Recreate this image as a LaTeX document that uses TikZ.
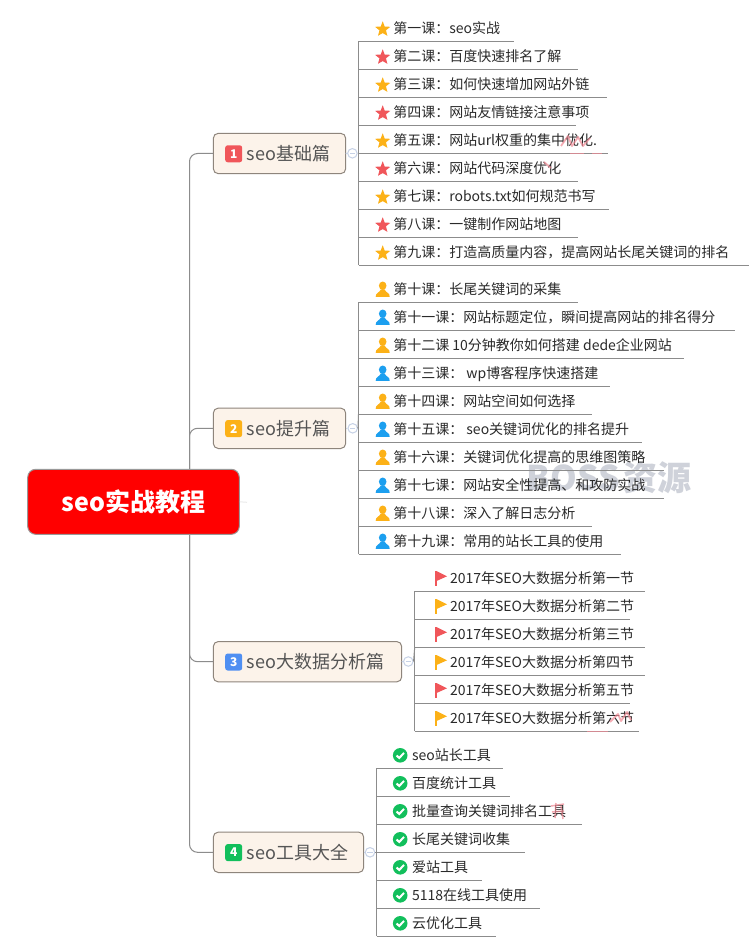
\documentclass[tikz,border=0pt]{standalone}
\usepackage{fontspec}
\setmainfont{Noto Sans CJK SC}
\definecolor{linkgray}{HTML}{8C8C8C}
\definecolor{txt}{HTML}{2A2A2A}
\definecolor{gfill}{HTML}{FCF3EA}
\definecolor{gborder}{HTML}{8E857C}
\definecolor{gtext}{HTML}{555555}
\definecolor{icoorange}{HTML}{FCB117}
\definecolor{icored}{HTML}{F0565A}
\definecolor{icoblue}{HTML}{1C9FEF}
\definecolor{icogreen}{HTML}{12BF5C}
\definecolor{badgeblue}{HTML}{4F8FF2}
\definecolor{collapse}{HTML}{C6D1E6}
\definecolor{mark}{HTML}{CFD2DA}
\definecolor{smudge}{HTML}{F08A95}
\tikzset{
  link/.style={draw=linkgray,line width=1pt},
  rowbox/.style={anchor=south west,inner sep=0pt,outer sep=0pt,minimum height=28pt,text=txt,font=\fontsize{14pt}{16pt}\selectfont},
  groupbox/.style={rectangle,rounded corners=5pt,draw=gborder,fill=gfill,line width=1pt,inner sep=0pt,outer sep=0pt,minimum height=40.4pt,text=gtext,font=\fontsize{18pt}{20pt}\selectfont},
  badgebox/.style={rectangle,rounded corners=2.5pt,minimum size=17pt,inner sep=0pt,text=white,font=\fontsize{12pt}{12pt}\selectfont\bfseries},
  rootbox/.style={rectangle,rounded corners=8pt,draw=gray!80,fill=red,line width=1pt,inner sep=0pt,minimum width=211.6pt,minimum height=65pt,text=white,font=\fontsize{25pt}{28pt}\selectfont\bfseries},
  foldmark/.style={circle,draw=collapse,fill=white,line width=1pt,minimum size=9.5pt,inner sep=0pt},
  smudgeline/.style={draw=smudge,line width=1.8pt,opacity=.7,line join=round},
  pics/starico/.style={code={\begin{scope}[yshift=-1pt]\fill[#1,line join=round] (-90:8)--(-54:3.4)--(-18:8)--(18:3.4)--(54:8)--(90:3.8)--(126:8)--(162:3.4)--(198:8)--(234:3.4)--cycle;\end{scope}}},
  pics/personico/.style={code={\fill[#1] (0,-3.6) ellipse (3.8 and 4.2);
     \fill[#1] (-7,7.6) .. controls (-7.4,3.4) and (-3,3.6) .. (-1.8,0) -- (1.8,0) .. controls (3,3.6) and (7.4,3.4) .. (7,7.6) -- cycle;}},
  pics/flagico/.style={code={\fill[#1] (-6,-7.5) rectangle (-4,7.5);
     \fill[#1] (-4,-7) -- (6,-2) -- (-4,2.5) -- cycle;}},
  pics/checkico/.style={code={\fill[icogreen] (0,0) circle (7.3);
     \draw[white,line width=2pt] (-3.6,0.2) -- (-1,2.7) -- (3.8,-2.4);}},
}
\newcommand\lessonrow[5]{%
  \pgfmathsetmacro\rowW{#3-\stemx}
  \node[rowbox,minimum width=\rowW pt] (#1) at (\stemx,#2) {\makebox[\rowW pt][l]{\hspace*{\textx pt}\rule[-5.7pt]{0pt}{24pt}#5}};
  \draw[link] (#1.south west) -- (#1.south east);
  \path (#1.west) ++(\iconx,1) pic {#4};
}
\newcommand\topicbox[6]{% name, center y, right x, badge colour, digit, text
  \pgfmathsetmacro\boxW{#3-213.3}
  \pgfmathsetmacro\boxC{(#3+213.3)/2}
  \node[groupbox,minimum width=\boxW pt] (#1) at (\boxC,#2) {\makebox[\boxW pt][l]{\hspace*{33.4pt}#6}};
  \node[badgebox,fill=#4] (#1b) at (233.7,#2+0.3) {#5};
}
\begin{document}
\begin{tikzpicture}[x=1pt,y=-1pt]
\useasboundingbox (0,0) rectangle (749,952);
\fill[white] (0,0) rectangle (749,952);
\coordinate (tk) at (189.5,500);

% watermark
\node[inner sep=0pt,text=mark,font=\fontsize{34pt}{36pt}\selectfont\bfseries] (wm) at (609,477.5) {BOSS\hspace{3pt}资源};

% group 1
\def\stemx{358.5}\def\iconx{24.2}\def\textx{34.8}
\lessonrow{a1}{41.3}{514}{starico=icoorange}{第一课：seo实战}
\lessonrow{a2}{69.3}{578}{starico=icored}{第二课：百度快速排名了解}
\lessonrow{a3}{97.3}{607}{starico=icoorange}{第三课：如何快速增加网站外链}
\lessonrow{a4}{125.3}{576}{starico=icored}{第四课：网站友情链接注意事项}
\lessonrow{a5}{153.3}{608}{starico=icoorange}{第五课：网站url权重的集中优化.}
\lessonrow{a6}{181.3}{578}{starico=icored}{第六课：网站代码深度优化}
\lessonrow{a7}{209.3}{609}{starico=icoorange}{第七课：robots.txt如何规范书写}
\lessonrow{a8}{237.3}{578}{starico=icored}{第八课：一键制作网站地图}
\lessonrow{a9}{265.3}{749}{starico=icoorange}{第九课：打造高质量内容，提高网站长尾关键词的排名}
\draw[link] (a1.south west) -- (a9.south west);

% group 2
\lessonrow{b1}{302.3}{578}{personico=icoorange}{第十课：长尾关键词的采集}
\lessonrow{b2}{330.3}{735}{personico=icoblue}{第十一课：网站标题定位，瞬间提高网站的排名得分}
\lessonrow{b3}{358.3}{684}{personico=icoorange}{第十二课 10分钟教你如何搭建 dede企业网站}
\lessonrow{b4}{386.3}{610}{personico=icoblue}{第十三课： wp博客程序快速搭建}
\lessonrow{b5}{414.3}{592}{personico=icoorange}{第十四课：网站空间如何选择}
\lessonrow{b6}{442.3}{642}{personico=icoblue}{第十五课： seo关键词优化的排名提升}
\lessonrow{b7}{470.3}{664}{personico=icoorange}{第十六课：关键词优化提高的思维图策略}
\lessonrow{b8}{498.3}{664}{personico=icoblue}{第十七课：网站安全性提高、和攻防实战}
\lessonrow{b9}{526.3}{592}{personico=icoorange}{第十八课：深入了解日志分析}
\lessonrow{b10}{554.3}{621}{personico=icoblue}{第十九课：常用的站长工具的使用}
\draw[link] (b1.south west) -- (b10.south west);

% group 3
\def\stemx{414.7}\def\iconx{26.3}\def\textx{35.3}
\lessonrow{c1}{591.3}{645}{flagico=icored}{2017年SEO大数据分析第一节}
\lessonrow{c2}{619.3}{630}{flagico=icoorange}{2017年SEO大数据分析第二节}
\lessonrow{c3}{647.3}{645}{flagico=icored}{2017年SEO大数据分析第三节}
\lessonrow{c4}{675.3}{645}{flagico=icoorange}{2017年SEO大数据分析第四节}
\lessonrow{c5}{703.3}{630}{flagico=icored}{2017年SEO大数据分析第五节}
\lessonrow{c6}{731.3}{639}{flagico=icoorange}{2017年SEO大数据分析第六节}
\draw[link] (c1.south west) -- (c6.south west);

% group 4
\def\stemx{376.7}\def\iconx{23.5}\def\textx{35.3}
\lessonrow{d1}{768.3}{503}{checkico}{seo站长工具}
\lessonrow{d2}{796.3}{510}{checkico}{百度统计工具}
\lessonrow{d3}{824.3}{582}{checkico}{批量查询关键词排名工具}
\lessonrow{d4}{852.3}{525}{checkico}{长尾关键词收集}
\lessonrow{d5}{880.3}{482}{checkico}{爱站工具}
\lessonrow{d6}{908.3}{540}{checkico}{5118在线工具使用}
\lessonrow{d7}{936.3}{496}{checkico}{云优化工具}
\draw[link] (d1.south west) -- (d7.south west);

% trunk and topics
\topicbox{g1}{153.5}{345.7}{icored}{1}{seo基础篇}
\topicbox{g2}{428.3}{345.7}{icoorange}{2}{seo提升篇}
\topicbox{g3}{661.7}{401.7}{badgeblue}{3}{seo大数据分析篇}
\topicbox{g4}{852.3}{363.7}{icogreen}{4}{seo工具大全}
\draw[link,rounded corners=8pt] (g1.west) -| (tk) |- (g4.west);
\draw[link,rounded corners=8pt] (g2.west) -| (tk);
\draw[link,rounded corners=8pt] (g3.west) -| (tk);

% fold marks
\foreach \f/\g/\xx/\yy in {f1/g1/352.4/153.3,f2/g2/352.7/428.3,f3/g3/408.3/661.5,f4/g4/370/852.3}{
  \node[foldmark] (\f) at (\xx,\yy) {};
  \draw[draw=collapse,line width=1pt] (\g.east) -- (\f.west);
  \draw[draw=collapse,line width=1pt] (\f.center) ++(-2.6,0) -- ++(5.2,0);
}
\draw[link] (f1.east) -- (a5.south west);
\draw[link] (f2.east) -- (b5.south west);
\draw[link] (f3.east) -- (c3.south west);
\draw[link] (f4.east) -- (d4.south west);

% root
\draw[draw=black!70,line width=1.5pt] (144,469.6) -- (175,469.6) (144,534.2) -- (175,534.2);
\node[rootbox] (root) at (133.5,501.8) {seo实战教程};
\coordinate (stub) at (247,502.3);
\draw[draw=black!8,line width=1pt] (root.east) -- (stub);

% smudges
\draw[smudgeline] (561,146) -- (568,136) -- (572,146) -- (578,137) -- (583,146) -- (590,138);
\draw[smudgeline,line width=1pt] (570,153.5) -- (584,153.5) (592,153.5) -- (602,153.5);
\draw[smudgeline] (544,162) -- (551,168);
\draw[smudgeline] (610,722) -- (618,714) -- (621,721) -- (627,712) -- (631,720);
\draw[smudgeline,line width=1pt] (587,731.5) -- (608,731.5);
\draw[smudgeline,line width=1.5pt] (551,806) -- (564,804) (556,803) -- (555,818) (561,806) -- (563,819) (552,812) -- (564,811);
\end{tikzpicture}
\end{document}
